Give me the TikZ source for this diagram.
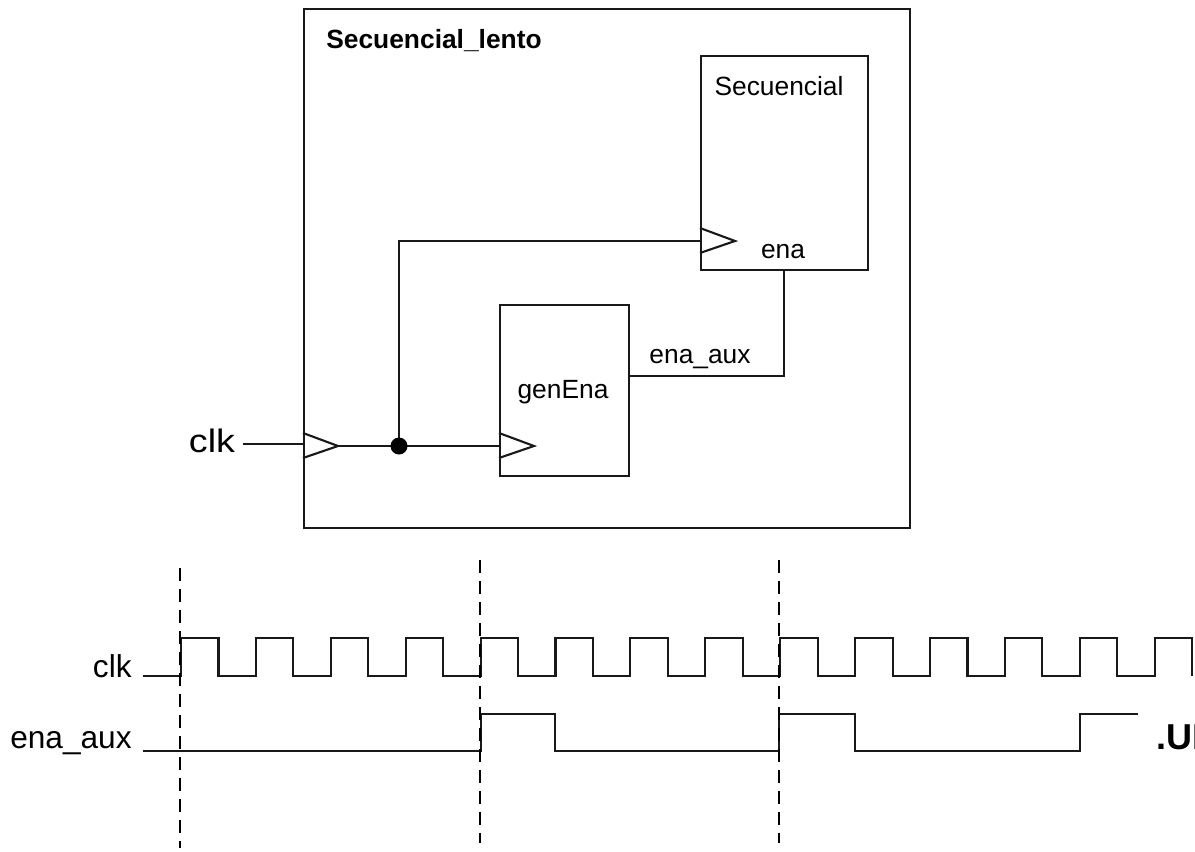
\documentclass[tikz,border=0pt]{standalone}
\usepackage{fontspec}
\setmainfont{Liberation Sans}
\usetikzlibrary{calc}

\tikzset{
    wire/.style={line width=1.2pt, color=black!90},
    block/.style={draw, wire, rectangle, inner sep=0pt, anchor=north west},
    tag/.style={inner sep=0pt, anchor=base, font=\fontsize{15pt}{17pt}\selectfont},
    side/.style={inner sep=0pt, anchor=base east, font=\fontsize{18pt}{20pt}\selectfont},
    marker/.style={line width=0.9pt, dash pattern=on 7.2pt off 4.75pt},
}

\begin{document}
\begin{tikzpicture}[x=0.02cm, y=-0.02cm]
    \useasboundingbox (0, 0) rectangle (1195, 851);

    \node[block, minimum width=12.12cm, minimum height=10.38cm] (lento) at (303, 8) {};
    \node[block, minimum width=3.34cm, minimum height=4.28cm] (sec) at (700, 55) {};
    \node[block, minimum width=2.58cm, minimum height=3.42cm] (gen) at (499, 304) {};

    \node[tag, anchor=base west, font=\fontsize{15pt}{17pt}\selectfont\bfseries] (lentolabel) at (326, 49) {Secuencial\_lento};
    \node[tag] (seclabel) at (779, 96) {Secuencial};
    \node[tag] (enalabel) at (783, 258) {ena};
    \node[tag] (genlabel) at (563, 398) {genEna};
    \node[tag] (auxlabel) at (700, 363) {ena\_aux};
    \node[tag, xscale=1.16, font=\fontsize{18.5pt}{20pt}\selectfont] (clkin) at (212, 452) {clk};

    % relojes
    \coordinate (tri1) at (303, 446);
    \coordinate (tri2) at (499, 446);
    \coordinate (tri3) at (700, 241);
    \foreach \p/\n in {tri1/tip1, tri2/tip2, tri3/tip3} {
        \draw[wire] ($(\p)+(0, -13)$) -- ($(\p)+(35, 0)$) coordinate (\n) -- ($(\p)+(0, 12)$);
    }

    \coordinate (split) at (399, 446);
    \coordinate (enaout) at (784, 269);
    \coordinate (auxout) at (628, 376);

    \draw[wire] (243, 444) -- (303, 444);
    \draw[wire] (338, 446) -- (tri2);
    \draw[wire] (split) -- (split |- tri3) -- (tri3);
    \draw[wire] (enaout) -- (enaout |- auxout) -- (auxout);
    \fill[black] (split) circle (8.5);

    % cronograma
    \node[side] (clklabel) at (132, 677) {clk};
    \node[side] (auxwave) at (132, 748) {ena\_aux};

    \draw[wire] (143, 676) -- (181, 676) -- (181, 638)
        \foreach \k in {1, 3, ..., 25} {
            -- ({181 + \k*37.45}, 638) -- ({181 + \k*37.45}, 676)
            -- ({181 + (\k+1)*37.45}, 676) -- ({181 + (\k+1)*37.45}, 638)
        } -- (1192, 638) -- (1192, 676);
    \draw[wire] (143, 751) -- (481, 751) -- (481, 714) -- (555, 714) -- (555, 751)
        -- (779, 751) -- (779, 714) -- (855, 714) -- (855, 751)
        -- (1080, 751) -- (1080, 714) -- (1138, 714);

    \draw[marker] (180, 568) -- (180, 848);
    \draw[marker] (480, 560) -- (480, 843);
    \draw[marker] (779, 560) -- (779, 843);

    \node[anchor=base west, inner sep=0pt, font=\fontsize{20.5pt}{22pt}\selectfont\bfseries] (cutlabel) at (1156, 749) {.UI};
\end{tikzpicture}
\end{document}
